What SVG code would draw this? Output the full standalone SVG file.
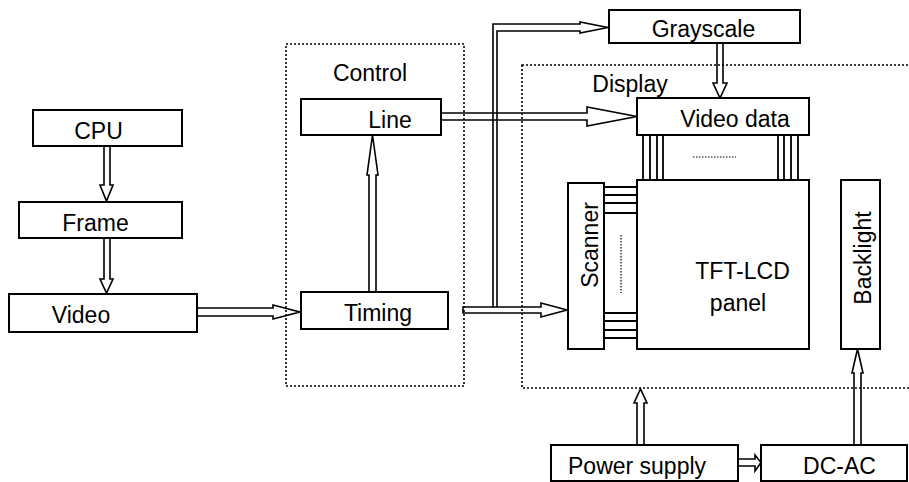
<svg xmlns="http://www.w3.org/2000/svg" width="909" height="482" viewBox="0 0 909 482">
  <style>
    .box { fill: #ffffff; stroke: #000000; stroke-width: 2; }
    .frame { fill: none; stroke: #000000; stroke-width: 1.6; stroke-dasharray: 2 2; }
    .lbl { font-family: "Liberation Sans", Arial, sans-serif; font-size: 23px; fill: #000000; }
    .mid { text-anchor: middle; }
    .arrow { fill: none; stroke: #000000; stroke-width: 1.6; stroke-linejoin: miter; }
    .wire { fill: none; stroke: #000000; stroke-width: 1.8; }
    .dots { fill: none; stroke: #000000; stroke-width: 1.2; stroke-dasharray: 1.5 1.5; }
  </style>

  <!-- dotted group frames -->
  <g id="control">
    <rect class="frame" x="286" y="44" width="178" height="342"/>
    <text class="lbl mid" x="370" y="81">Control</text>
  </g>
  <g id="display">
    <rect class="frame" x="522" y="65" width="400" height="323"/>
    <text class="lbl mid" x="630" y="92">Display</text>
  </g>

  <!-- connectors: hollow double-line arrows -->
  <g id="connectors">
    <!-- CPU to Frame -->
    <path class="arrow" d="M104,146 V185 H100 L106.5,201 L113,185 H110 V146"/>
    <!-- Frame to Video -->
    <path class="arrow" d="M104,238 V279 H100 L106.5,293 L113,279 H110 V238"/>
    <!-- Video to Timing -->
    <path class="arrow" d="M197,308 H273 V305 L300,312 L273,319 V316 H197"/>
    <!-- Timing to Line -->
    <path class="arrow" d="M369,292 V175 H367 L372.5,135 L378,175 H376 V292"/>
    <!-- bus from the timing output up to Grayscale -->
    <path class="arrow" d="M493,307 V24 H580 V22 L608,27.5 L580,33 V31 H497 V307"/>
    <!-- Line to Video data -->
    <path class="arrow" d="M441,113 H587 V107 L637,116.5 L587,126 V120 H441"/>
    <!-- Timing to Scanner -->
    <path class="arrow" d="M463,307 H541 V303 L567,310 L541,317 V313 H463 Z"/>
    <!-- Grayscale to Video data -->
    <path class="arrow" d="M717,43 V83 H713 L720,98 L727,83 H723 V43"/>
    <!-- Power supply to Display -->
    <path class="arrow" d="M637,445 V403 H634 L640.5,389 L647,403 H644 V445"/>
    <!-- Power supply to DC-AC -->
    <path class="arrow" d="M738,459 H755 V455 L761,462.5 L755,471 V466 H738"/>
    <!-- DC-AC to Backlight -->
    <path class="arrow" d="M854,445 V373 H852 L857.5,349 L863,373 H861 V445"/>

    <!-- data lines from Video data to the panel -->
    <path class="wire" d="M643,135 V180 M650,135 V180 M657,135 V180 M663,135 V180 M778,135 V180 M784,135 V180 M791,135 V180 M798,135 V180"/>
    <path class="dots" d="M693,157 H736"/>
    <!-- scan lines from Scanner to the panel -->
    <path class="wire" d="M604,187 H637 M604,195 H637 M604,203 H637 M604,213 H637 M604,313 H637 M604,321 H637 M604,330 H637 M604,338 H637"/>
    <path class="dots" d="M621,235 V293"/>
  </g>

  <!-- nodes -->
  <g id="cpu">
    <rect class="box" x="33" y="110" width="149" height="36"/>
    <text class="lbl mid" x="98.5" y="139">CPU</text>
  </g>
  <g id="frame">
    <rect class="box" x="19" y="202" width="163" height="36"/>
    <text class="lbl mid" x="95.5" y="231">Frame</text>
  </g>
  <g id="video">
    <rect class="box" x="9" y="294" width="188" height="38"/>
    <text class="lbl mid" x="81" y="323">Video</text>
  </g>
  <g id="line">
    <rect class="box" x="301" y="99" width="140" height="36"/>
    <text class="lbl mid" x="390" y="128">Line</text>
  </g>
  <g id="timing">
    <rect class="box" x="301" y="292" width="147" height="37"/>
    <text class="lbl mid" x="378" y="321">Timing</text>
  </g>
  <g id="grayscale">
    <rect class="box" x="609" y="10" width="191" height="33"/>
    <text class="lbl mid" x="703.5" y="37">Grayscale</text>
  </g>
  <g id="video-data">
    <rect class="box" x="637" y="98" width="172" height="37"/>
    <text class="lbl mid" x="735" y="127">Video data</text>
  </g>
  <g id="panel">
    <rect class="box" x="637" y="180" width="172" height="169"/>
    <text class="lbl mid" x="742.5" y="279">TFT-LCD</text>
    <text class="lbl mid" x="738" y="311">panel</text>
  </g>
  <g id="scanner">
    <rect class="box" x="568" y="183" width="36" height="166"/>
    <text class="lbl mid" transform="translate(598,245) rotate(-90)">Scanner</text>
  </g>
  <g id="backlight">
    <rect class="box" x="841" y="180" width="39" height="169"/>
    <text class="lbl mid" transform="translate(870.5,258) rotate(-90)">Backlight</text>
  </g>
  <g id="power-supply">
    <rect class="box" x="551" y="445" width="187" height="36"/>
    <text class="lbl" x="568" y="474">Power supply</text>
  </g>
  <g id="dc-ac">
    <rect class="box" x="761" y="445" width="146" height="36"/>
    <text class="lbl mid" x="839.5" y="474">DC-AC</text>
  </g>
</svg>
